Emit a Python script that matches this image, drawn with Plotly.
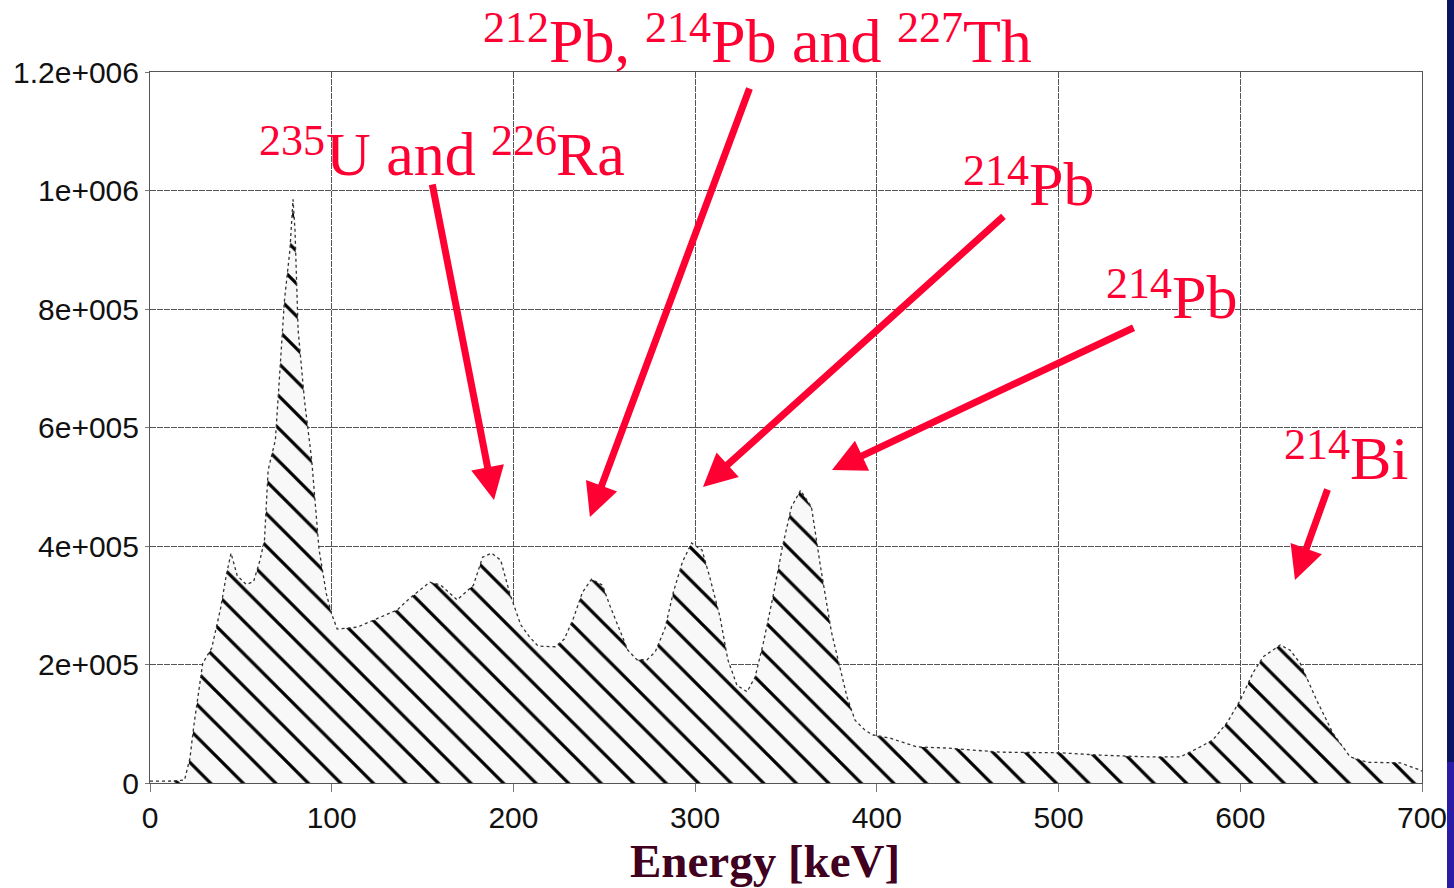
import plotly.graph_objects as go

# ---- data (energy in keV, counts) ----
energy = [0, 10, 19, 22, 24, 29, 34, 39, 42, 44.6, 48, 53, 57, 60.5, 63, 65, 69, 71.5, 74, 77, 78.7,
          79.8, 81.5, 85, 89, 93, 97, 100, 103, 114, 125, 136, 143, 154, 160, 169, 178, 183, 188,
          193, 198, 204, 209, 213.6, 223, 228, 233, 238, 243, 249, 253, 258.7, 263, 268, 273.5, 278,
          283.5, 288, 293, 298, 303.8, 308, 313.7, 318, 323, 328.6, 333, 337.5, 343, 348, 353, 358,
          364, 369, 375, 383.6, 388, 393.5, 398, 407, 422, 438.6, 468, 501, 523, 550, 567, 578, 585,
          593, 600, 607, 612.6, 622, 627.5, 633, 642, 651, 660.5, 670, 688, 699, 700]
counts_k = [3, 3, 5, 42, 94, 202, 228, 297, 351, 388, 350, 335, 340, 376, 410, 528, 579, 697, 815, 900, 985,
            933, 765, 646, 545, 395, 320, 285, 260, 263, 278, 292, 312, 339, 334, 309, 334, 381, 388,
            376, 320, 267, 246, 231, 230, 243, 278, 322, 344, 334, 300, 258, 224, 208, 208, 221,
            262, 322, 373, 405, 393, 348, 280, 208, 165, 154, 179, 236, 317, 398, 466, 494,
            466, 365, 255, 145, 106, 89, 81, 76, 61, 59, 52, 51, 47, 44, 44, 61, 73,
            103, 140, 186, 213, 233, 224, 202, 140, 84, 44, 35, 34, 22, 20]
counts = [c * 1000 for c in counts_k]

x_ticks = [0, 100, 200, 300, 400, 500, 600, 700]
y_ticks = [0, 200000, 400000, 600000, 800000, 1000000, 1200000]
y_tick_labels = ["0", "2e+005", "4e+005", "6e+005", "8e+005", "1e+006", "1.2e+006"]
x_title = "Energy [keV]"

# nuclide labels, split into pieces: text, superscript?, left pixel, main-text baseline pixel
label_pieces = [
    ("235", True, 258, 176), ("U and", False, 325, 176), ("226", True, 490, 176), ("Ra", False, 555, 176),
    ("212", True, 482, 63), ("Pb,", False, 548, 63), ("214", True, 644, 63), ("Pb and", False, 710, 63),
    ("227", True, 896, 63), ("Th", False, 962, 63),
    ("214", True, 962, 206), ("Pb", False, 1028, 206),
    ("214", True, 1105, 319), ("Pb", False, 1171, 319),
    ("214", True, 1283, 480), ("Bi", False, 1349, 480),
]

# arrows: head (x, y) and tail (ax, ay) in data units
arrow_head_x = [189.3, 242.1, 304.3, 375.3, 630.1]
arrow_head_y = [477600, 449000, 499600, 528300, 342600]
arrow_tail_x = [155.2, 330.2, 470.5, 542.1, 648.3]
arrow_tail_y = [1012700, 1174700, 958600, 769600, 497900]

RED = "#ff0033"
MAIN_SIZE, SUP_SIZE, SUP_RAISE = 62, 44, 20
PLOT_L, PLOT_W, PLOT_B, PLOT_H = 150, 1272, 783, 711


def px_to_paper(px, py):
    return (px - PLOT_L) / PLOT_W, (PLOT_B - py) / PLOT_H


fig = go.Figure()
fig.add_trace(go.Scatter(
    x=energy, y=counts, mode="lines",
    line=dict(color="#333333", width=1.3, dash="dot"),
    fill="tozeroy",
    fillcolor="rgba(0,0,0,0)",
    fillpattern=dict(shape="\\", fgcolor="#000000", fgopacity=1, bgcolor="#f8f8f8", size=23,
                     solidity=0.14),
    showlegend=False, hoverinfo="skip",
))

annotations = []
for text, is_sup, left, base in label_pieces:
    size = SUP_SIZE if is_sup else MAIN_SIZE
    baseline = base - SUP_RAISE if is_sup else base
    center = baseline - 0.35 * size
    px, py = px_to_paper(left, center)
    annotations.append(dict(text=text, x=px, y=py, xref="paper", yref="paper",
                            xanchor="left", yanchor="middle", showarrow=False, borderpad=0,
                            font=dict(family="Liberation Serif", size=size, color=RED)))
for hx, hy, tx, ty in zip(arrow_head_x, arrow_head_y, arrow_tail_x, arrow_tail_y):
    annotations.append(dict(text="", x=hx, y=hy, ax=tx, ay=ty, xref="x", yref="y",
                            axref="x", ayref="y", showarrow=True, arrowhead=2,
                            arrowsize=0.95, arrowwidth=7, arrowcolor=RED, standoff=0))
annotations.append(dict(text="<b>" + x_title + "</b>", x=0.4835, y=-0.110, xref="paper", yref="paper",
                        xanchor="center", yanchor="middle", showarrow=False,
                        font=dict(family="Liberation Serif", size=47, color="#400020")))

sx0, _ = px_to_paper(1447, 0)
sx1, _ = px_to_paper(1460, 0)
_, s_split = px_to_paper(0, 762)
shapes = [
    dict(type="rect", xref="paper", yref="paper", x0=sx0, x1=sx1, y0=s_split, y1=1.12,
         fillcolor="#0b1460", line=dict(width=0), layer="above"),
    dict(type="rect", xref="paper", yref="paper", x0=sx0, x1=sx1, y0=-0.16, y1=s_split,
         fillcolor="#2b1ca8", line=dict(width=0), layer="above"),
]

fig.update_layout(
    width=1454, height=888,
    margin=dict(l=150, r=32, t=72, b=105),
    paper_bgcolor="white", plot_bgcolor="white",
    annotations=annotations, shapes=shapes,
    xaxis=dict(range=[0, 700], tickvals=x_ticks, showgrid=True, gridcolor="#555555", gridwidth=1,
               griddash="6px,1px", automargin=False,
               showline=True, linecolor="#555555", linewidth=1, mirror=True,
               ticks="outside", ticklen=8, tickcolor="#777777",
               tickfont=dict(family="Liberation Sans", size=30, color="#111111"),
               zeroline=False),
    yaxis=dict(range=[0, 1200000], tickvals=y_ticks, ticktext=y_tick_labels, showgrid=True,
               gridcolor="#555555", gridwidth=1, griddash="6px,1px", automargin=False,
               showline=True, linecolor="#555555", linewidth=1, mirror=True,
               ticks="outside", ticklen=4, tickcolor="#777777",
               tickfont=dict(family="Liberation Sans", size=30, color="#111111"),
               zeroline=False),
)

fig.write_html("out.html", config={"displayModeBar": False},
               post_script="document.body.style.margin='0';document.body.style.overflow='hidden';")
